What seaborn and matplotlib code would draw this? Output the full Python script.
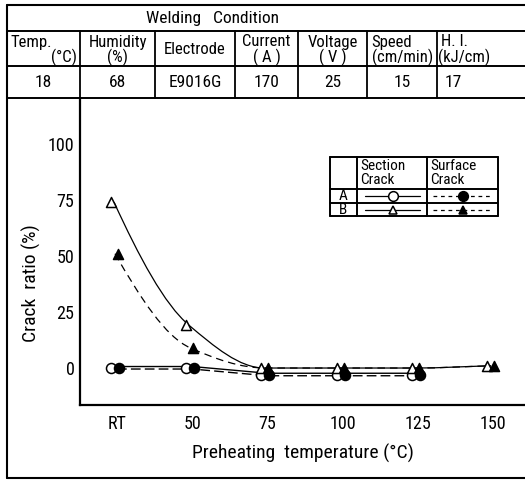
import numpy as np
import pandas as pd
import matplotlib
matplotlib.use("Agg")
import matplotlib.pyplot as plt
import seaborn as sns
from matplotlib import font_manager
from matplotlib.lines import Line2D
from matplotlib.path import Path
from matplotlib.patches import PathPatch
from matplotlib.transforms import ScaledTranslation

# ---------------- data ----------------
x_pos = [25, 50, 75, 100, 125, 150]
x_labels = ["RT", "50", "75", "100", "125", "150"]
a_x = [25, 50, 75, 100, 125]
a_section = [0, 0, -3, -3, -3]
a_surface = [0, 0, -3, -3, -3]
b_section = [74, 19, 0, 0, 0, 1]
b_surface = [51, 9, 0, 0, 0, 1]
y_ticks = [0, 25, 50, 75, 100]

table_title = "Welding   Condition"
table_headers = [("Temp.", "(°C)"), ("Humidity", "(%)"), ("Electrode", ""),
                 ("Current", "( A )"), ("Voltage", "( V )"),
                 ("Speed", "(cm/min)"), ("H. I.", "(kJ/cm)")]
table_values = ["18", "68", "E9016G", "170", "25", "15", "17"]

# ---------------- style ----------------
sns.set_style("white")
available = {f.name for f in font_manager.fontManager.ttflist}
candidates = ["Liberation Sans Narrow", "DejaVu Sans Condensed", "Roboto Condensed",
              "Open Sans Condensed", "Noto Sans", "DejaVu Sans"]
FONT = [c for c in candidates if c in available] or ["DejaVu Sans"]
CONDENSED = FONT[0] in ("Liberation Sans Narrow", "DejaVu Sans Condensed",
                        "Roboto Condensed", "Open Sans Condensed")
plt.rcParams["font.family"] = [FONT[0], "DejaVu Sans"]
plt.rcParams["text.color"] = "black"
plt.rcParams["axes.labelcolor"] = "black"
plt.rcParams["xtick.color"] = "black"
plt.rcParams["ytick.color"] = "black"
plt.rcParams["xtick.direction"] = "in"
plt.rcParams["ytick.direction"] = "in"

SZ = 1.0 if CONDENSED else 0.88

W, H = 525, 482
fig = plt.figure(figsize=(W / 100, H / 100), dpi=100)
fig.patch.set_facecolor("white")


def fx(px):
    return px / W


def fy(py):
    return 1 - py / H


def fline(x0, y0, x1, y1, lw=1.3, ls="-"):
    fig.add_artist(Line2D([fx(x0), fx(x1)], [fy(y0), fy(y1)], color="black",
                          lw=lw, ls=ls, transform=fig.transFigure))


def ftext(x, y, s, size=10, ha="center", va="center"):
    fig.text(fx(x), fy(y), s, ha=ha, va=va, fontsize=size * SZ, color="black")


# outer frame
fline(7, 5, 7, 478, lw=1.5)
fline(7, 478, 525, 478, lw=1.5)
fline(7, 5, 525, 5, lw=1.5)

# condition table
rows_y = [5, 31, 66, 98]
cols_x = [7, 80, 155, 235, 298, 367, 437, 560]
for ry in rows_y[1:]:
    fline(7, ry, 525, ry, lw=1.4)
for cx in cols_x[1:-1]:
    fline(cx, 31, cx, 98, lw=1.3)
ftext(212, 18, table_title, size=12.5)
HS = 12
for i, (h1, h2) in enumerate(table_headers):
    c0, c1 = cols_x[i], cols_x[i + 1]
    cc = (c0 + min(c1, 560)) / 2
    if i == 0:
        ftext(10, 42, h1, ha="left", size=HS)
        ftext(77, 57, h2, ha="right", size=HS)
    elif i == 6:
        ftext(441, 42, h1, ha="left", size=HS)
        ftext(438, 57, h2, ha="left", size=HS)
    elif i == 5:
        ftext(371, 42, h1, ha="left", size=HS)
        ftext(cc + 1, 57, h2, size=HS)
    elif h2 == "":
        ftext(cc, 49, h1, size=HS)
    else:
        ftext(cc, 42, h1, size=HS)
        ftext(cc, 57, h2, size=HS)
    vx = cc if i < 6 else 453
    ftext(vx, 82, table_values[i], size=12.5)

# ---------------- axes ----------------
ax = fig.add_axes([fx(80), fy(405), fx(525) - fx(80), fy(100) - fy(405)])
ax.set_facecolor("none")
ax.set_xlim(12.7, 160.6)
ax.set_ylim(-16.5, 119.6)
for s in ["top", "right"]:
    ax.spines[s].set_visible(False)
for s in ["left", "bottom"]:
    ax.spines[s].set_linewidth(1.6)
    ax.spines[s].set_color("black")
ax.set_xticks(x_pos)
ax.set_xticklabels(x_labels)
ax.set_yticks(y_ticks)
ax.tick_params(axis="y", length=11, width=1.1, labelsize=13 * SZ, pad=4,
               colors="black")
ax.tick_params(axis="x", length=8, width=1.1, labelsize=13 * SZ, pad=7,
               colors="black")
ax.set_xlabel("Preheating  temperature (°C)", fontsize=14 * SZ, labelpad=8,
              color="black")
ax.set_ylabel("Crack  ratio (%)", fontsize=14 * SZ, color="black")
ax.yaxis.set_label_coords(-0.088, 0.40)


def shifted(dx_px, dy_px=0):
    return ax.transData + ScaledTranslation(dx_px / 100, dy_px / 100,
                                            fig.dpi_scale_trans)


def mono_path(xs, ys):
    xs = np.asarray(xs, float)
    ys = np.asarray(ys, float)
    h = np.diff(xs)
    d = np.diff(ys) / h
    m = np.zeros_like(ys)
    m[0] = ((2 * h[0] + h[1]) * d[0] - h[0] * d[1]) / (h[0] + h[1])
    m[-1] = d[-1]
    for i in range(1, len(xs) - 1):
        if d[i - 1] * d[i] <= 0:
            m[i] = 0
        else:
            m[i] = 2 / (1 / d[i - 1] + 1 / d[i])
    verts = [(xs[0], ys[0])]
    codes = [Path.MOVETO]
    for i in range(len(xs) - 1):
        verts += [(xs[i] + h[i] / 3, ys[i] + m[i] * h[i] / 3),
                  (xs[i + 1] - h[i] / 3, ys[i + 1] - m[i + 1] * h[i] / 3),
                  (xs[i + 1], ys[i + 1])]
        codes += [Path.CURVE4] * 3
    return Path(verts, codes)


# A lines (straight)
sns.lineplot(x=a_x, y=a_section, ax=ax, color="black", lw=1.0, ls="-",
             estimator=None, sort=False)
ax.lines[-1].set_transform(shifted(0, 1.5))
sns.lineplot(x=a_x, y=a_surface, ax=ax, color="black", lw=1.0, ls=(0, (7, 3)),
             estimator=None, sort=False)
ax.lines[-1].set_transform(shifted(0, -1))

# B curves (smooth connectors through the data points)
ax.add_patch(PathPatch(mono_path(x_pos, b_section), fill=False, lw=0.9,
                       ls="-", ec="black", transform=shifted(-3)))
ax.add_patch(PathPatch(mono_path(x_pos, b_surface), fill=False, lw=0.9,
                       ls=(0, (6, 4)), ec="black", transform=shifted(-2)))


def markers(xs, ys, marker, filled, dx, s=52):
    sns.scatterplot(x=xs, y=ys, ax=ax, marker=marker, s=s,
                    color="black" if filled else "white",
                    edgecolor="black", linewidth=1.1, zorder=5)
    ax.collections[-1].set_offset_transform(shifted(dx))


markers(a_x, a_section, "o", False, -6)
markers(a_x, a_surface, "o", True, 2)
markers(x_pos, b_section, "^", False, -6)
markers(x_pos, b_surface, "^", True, 1)

# ---------------- legend table ----------------
L, C1, C2, R = 330, 357, 427, 498
T, D1, D2, B = 157, 189, 203, 216
for yy in [T, D1, D2, B]:
    fline(L, yy, R, yy, lw=1.4)
for xx in [L, C1, C2, R]:
    fline(xx, T, xx, B, lw=1.4)
ftext(360, 166, "Section", ha="left", size=11)
ftext(360, 180, "Crack", ha="left", size=11)
ftext(430, 166, "Surface", ha="left", size=11)
ftext(430, 180, "Crack", ha="left", size=11)
ftext(343, 196.5, "A", size=11)
ftext(343, 210, "B", size=11)
legend_items = [(196, "o", False, "-", 7), (196, "o", True, (0, (3, 3)), 7),
                (210, "^", False, "-", 6), (210, "^", True, (0, (3, 3)), 6)]
for k, (yy, mk, filled, ls, ms) in enumerate(legend_items):
    x0, x1 = (365, 420) if k % 2 == 0 else (433, 492)
    fig.add_artist(Line2D([fx(x0), fx(x1)], [fy(yy), fy(yy)], color="black",
                          lw=0.9, ls=ls, transform=fig.transFigure))
    fig.add_artist(Line2D([fx((x0 + x1) / 2)], [fy(yy)], marker=mk, ms=ms,
                          mfc="black" if filled else "white", mec="black",
                          mew=1.1, ls="none", transform=fig.transFigure))

fig.savefig("out.png", dpi=100, facecolor="white")
